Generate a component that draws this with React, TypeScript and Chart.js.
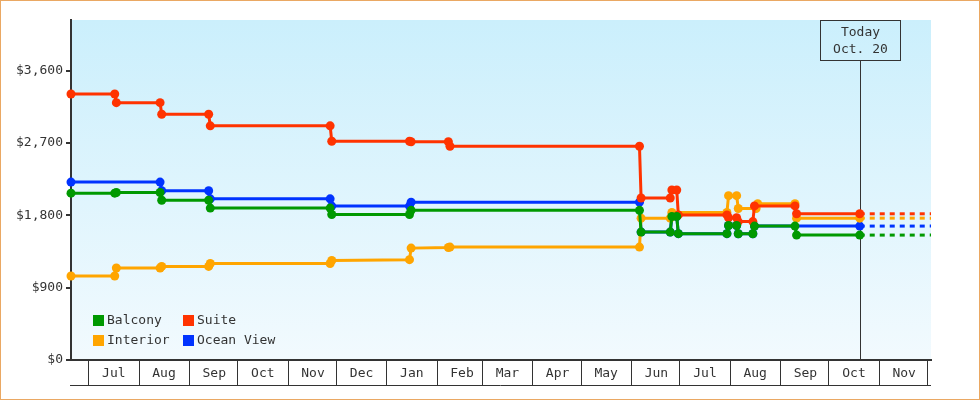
import { useEffect, useRef } from 'react';
import { Chart, registerables } from 'chart.js';

Chart.register(...registerables);

const FONT = "'DejaVu Sans Mono', monospace";
const TEXT = '#333333';

const X_START = '2022-06-20';
const X_END = '2023-12-03';
const TODAY = '2023-10-20';
const TODAY_LINES = ['Today', 'Oct. 20'];

const MONTH_STARTS = [
  '2022-07-01', '2022-08-01', '2022-09-01', '2022-10-01', '2022-11-01', '2022-12-01',
  '2023-01-01', '2023-02-01', '2023-03-01', '2023-04-01', '2023-05-01', '2023-06-01',
  '2023-07-01', '2023-08-01', '2023-09-01', '2023-10-01', '2023-11-01', '2023-12-01',
];
const MONTH_LABELS = [
  'Jul', 'Aug', 'Sep', 'Oct', 'Nov', 'Dec', 'Jan', 'Feb', 'Mar', 'Apr', 'May', 'Jun',
  'Jul', 'Aug', 'Sep', 'Oct', 'Nov', '',
];

const Y_TICKS = [0, 900, 1800, 2700, 3600];
const Y_MAX = 4230;

const SERIES_NAMES = ['Balcony', 'Suite', 'Interior', 'Ocean View'];
const SERIES_COLORS = ['#009900', '#ff3300', '#ffa500', '#0033ff'];

const balconyDates = [
  '2022-06-20', '2022-07-17', '2022-07-18', '2022-08-14', '2022-08-15', '2022-09-13',
  '2022-09-14', '2022-11-27', '2022-11-28', '2023-01-15', '2023-01-16', '2023-06-06',
  '2023-06-07', '2023-06-25', '2023-06-26', '2023-06-29', '2023-06-30', '2023-07-30',
  '2023-07-31', '2023-08-05', '2023-08-06', '2023-08-15', '2023-08-16', '2023-09-10',
  '2023-09-11', '2023-10-20',
];
const balconyPrices = [
  2076, 2076, 2084, 2084, 1988, 1988,
  1890, 1890, 1810, 1810, 1862, 1862,
  1591, 1591, 1785, 1785, 1572, 1572,
  1673, 1673, 1570, 1570, 1666, 1666,
  1554, 1554,
];

const suiteDates = [
  '2022-06-20', '2022-07-17', '2022-07-18', '2022-08-14', '2022-08-15', '2022-09-13',
  '2022-09-14', '2022-11-27', '2022-11-28', '2023-01-15', '2023-01-16', '2023-02-08',
  '2023-02-09', '2023-06-06', '2023-06-07', '2023-06-25', '2023-06-26', '2023-06-29',
  '2023-06-30', '2023-07-30', '2023-07-31', '2023-08-05', '2023-08-06', '2023-08-15',
  '2023-08-16', '2023-09-10', '2023-09-11', '2023-10-20',
];
const suitePrices = [
  3310, 3310, 3202, 3202, 3058, 3058,
  2913, 2913, 2722, 2722, 2715, 2715,
  2660, 2660, 2015, 2015, 2115, 2115,
  1805, 1805, 1770, 1770, 1722, 1722,
  1917, 1917, 1819, 1819,
];

const interiorDates = [
  '2022-06-20', '2022-07-17', '2022-07-18', '2022-08-14', '2022-08-15', '2022-09-13',
  '2022-09-14', '2022-11-27', '2022-11-28', '2023-01-15', '2023-01-16', '2023-02-08',
  '2023-02-09', '2023-06-06', '2023-06-07', '2023-06-25', '2023-06-26', '2023-07-30',
  '2023-07-31', '2023-08-05', '2023-08-06', '2023-08-17', '2023-08-18', '2023-09-10',
  '2023-09-11', '2023-10-20',
];
const interiorPrices = [
  1045, 1045, 1144, 1144, 1164, 1164,
  1200, 1200, 1238, 1248, 1392, 1400,
  1405, 1405, 1765, 1765, 1835, 1835,
  2045, 2045, 1885, 1885, 1945, 1945,
  1765, 1765,
];

const oceanViewDates = [
  '2022-06-20', '2022-08-14', '2022-08-15', '2022-09-13', '2022-09-14', '2022-11-27',
  '2022-11-28', '2023-01-15', '2023-01-16', '2023-06-06', '2023-06-07', '2023-06-25',
  '2023-06-26', '2023-06-29', '2023-06-30', '2023-07-30', '2023-07-31', '2023-08-05',
  '2023-08-06', '2023-08-15', '2023-08-16', '2023-10-20',
];
const oceanViewPrices = [
  2213, 2213, 2105, 2105, 2005, 2005,
  1915, 1915, 1964, 1964, 1591, 1591,
  1785, 1785, 1572, 1572, 1673, 1673,
  1570, 1570, 1666, 1666,
];

const SERIES_DATES = [balconyDates, suiteDates, interiorDates, oceanViewDates];
const SERIES_PRICES = [balconyPrices, suitePrices, interiorPrices, oceanViewPrices];

const toDay = (s: string) => Date.parse(s) / 86400000;

const framePlugin = {
  id: 'frame',
  beforeDraw(chart: any) {
    const { ctx, chartArea: a, width, height } = chart;
    ctx.save();
    ctx.fillStyle = '#ffffff';
    ctx.fillRect(0, 0, width, height);
    const g = ctx.createLinearGradient(0, a.top, 0, a.bottom);
    g.addColorStop(0, '#cbeffc');
    g.addColorStop(1, '#f2fafe');
    ctx.fillStyle = g;
    ctx.fillRect(a.left, a.top, a.right - a.left, a.bottom - a.top);
    ctx.restore();
  },
  beforeDatasetsDraw(chart: any) {
    const { ctx, chartArea: a } = chart;
    const x = Math.round(chart.scales.x.getPixelForValue(toDay(TODAY))) + 0.5;
    ctx.save();
    ctx.strokeStyle = TEXT;
    ctx.lineWidth = 1;
    ctx.beginPath();
    ctx.moveTo(x, a.top + 41);
    ctx.lineTo(x, a.bottom);
    ctx.stroke();
    ctx.restore();
  },
  afterDraw(chart: any) {
    const { ctx, chartArea: a, width, height } = chart;
    ctx.save();
    // bottom line of month cells
    ctx.strokeStyle = TEXT;
    ctx.lineWidth = 1;
    ctx.beginPath();
    ctx.moveTo(a.left - 1, a.bottom + 25.5);
    ctx.lineTo(a.right, a.bottom + 25.5);
    ctx.stroke();

    // today box
    const x = Math.round(chart.scales.x.getPixelForValue(toDay(TODAY))) + 0.5;
    ctx.strokeRect(x - 40, a.top + 0.5, 80, 40);
    ctx.fillStyle = TEXT;
    ctx.font = `13px ${FONT}`;
    ctx.textAlign = 'center';
    ctx.textBaseline = 'middle';
    ctx.fillText(TODAY_LINES[0], x, a.top + 12.5);
    ctx.fillText(TODAY_LINES[1], x, a.top + 30);

    // legend
    ctx.textAlign = 'left';
    const cols = [a.left + 22, a.left + 112];
    const rows = [a.bottom - 45, a.bottom - 25];
    const order = [0, 1, 2, 3];
    order.forEach((di, i) => {
      const ds = chart.data.datasets[di];
      const lx = cols[i % 2];
      const ly = rows[Math.floor(i / 2)];
      ctx.fillStyle = ds.borderColor;
      ctx.fillRect(lx, ly, 11, 11);
      ctx.fillStyle = TEXT;
      ctx.fillText(ds.label, lx + 14, ly + 6);
    });

    // outer border
    ctx.strokeStyle = '#eaa863';
    ctx.lineWidth = 1;
    ctx.strokeRect(0.5, 0.5, width - 1, height - 1);
    ctx.restore();
  },
};

export default function App() {
  const ref = useRef<HTMLCanvasElement>(null);

  useEffect(() => {
    document.body.style.margin = '0';
    const todayX = toDay(TODAY);
    const endX = toDay(X_END);

    const mainSets = SERIES_NAMES.map((name, i) => ({
      label: name,
      data: SERIES_DATES[i].map((d, j) => ({ x: toDay(d), y: SERIES_PRICES[i][j] })),
      borderColor: SERIES_COLORS[i],
      backgroundColor: SERIES_COLORS[i],
      pointBackgroundColor: SERIES_COLORS[i],
      pointBorderColor: SERIES_COLORS[i],
      borderWidth: 3,
      pointRadius: 4.5,
      pointBorderWidth: 0,
      pointStyle: 'circle',
      tension: 0,
      fill: false,
      clip: false,
    }));
    const dashSets = SERIES_NAMES.map((name, i) => {
      const last = SERIES_PRICES[i][SERIES_PRICES[i].length - 1];
      return {
        label: name + ' (projected)',
        data: [{ x: todayX, y: last }, { x: endX, y: last }],
        borderColor: SERIES_COLORS[i],
        backgroundColor: SERIES_COLORS[i],
        borderWidth: 3,
        borderDash: [5, 5],
        pointRadius: 0,
        tension: 0,
        fill: false,
        clip: false,
      };
    });

    const chart = new Chart(ref.current as HTMLCanvasElement, {
      type: 'line',
      data: { datasets: [...mainSets, ...dashSets] as any },
      options: {
        responsive: false,
        animation: false,
        devicePixelRatio: 1,
        events: [],
        layout: { padding: { top: 20, right: 49, bottom: 0, left: 0 } },
        plugins: { legend: { display: false }, tooltip: { enabled: false } },
        scales: {
          x: {
            type: 'linear',
            min: toDay(X_START),
            max: endX,
            afterBuildTicks: (s: any) => {
              s.ticks = MONTH_STARTS.map((d) => ({ value: toDay(d) }));
            },
            afterFit: (s: any) => {
              s.height = 40;
            },
            grid: {
              drawOnChartArea: false,
              drawTicks: true,
              tickLength: 25,
              color: TEXT,
              lineWidth: 1,
            },
            border: { display: true, color: TEXT, width: 2 },
            ticks: {
              autoSkip: false,
              maxRotation: 0,
              minRotation: 0,
              labelOffset: 25,
              padding: -19,
              color: TEXT,
              font: { family: FONT, size: 13 },
              callback: (_v: any, i: number) => MONTH_LABELS[i] ?? '',
            },
          },
          y: {
            type: 'linear',
            min: 0,
            max: Y_MAX,
            afterBuildTicks: (s: any) => {
              s.ticks = Y_TICKS.map((v) => ({ value: v }));
            },
            afterFit: (s: any) => {
              s.width = 71;
            },
            grid: { drawOnChartArea: false, tickLength: 5, color: TEXT, lineWidth: 2 },
            border: { display: true, color: TEXT, width: 2 },
            ticks: {
              padding: 3,
              color: TEXT,
              font: { family: FONT, size: 13 },
              callback: (v: any) => '$' + Number(v).toLocaleString('en-US'),
            },
          },
        },
      } as any,
      plugins: [framePlugin],
    });
    return () => chart.destroy();
  }, []);

  return (
    <div style={{ width: 980, height: 400 }}>
      <canvas ref={ref} width={980} height={400} style={{ display: 'block' }} />
    </div>
  );
}
